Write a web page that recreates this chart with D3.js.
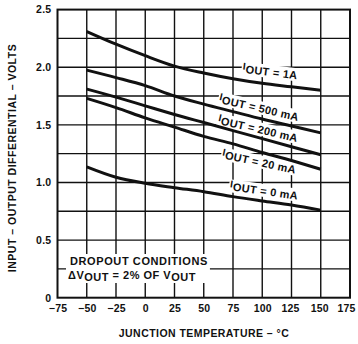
<!DOCTYPE html>
<html><head><meta charset="utf-8">
<script src="https://cdn.jsdelivr.net/npm/d3@7"></script>
<style>body{margin:0;background:#fff}svg{display:block}text{font-family:"Liberation Sans",Arial,sans-serif;font-weight:bold;fill:#111}</style>
</head><body><svg id="c" width="358" height="344"></svg>
<script>
const temps = [-50, -25, 0, 25, 50, 75, 100, 125, 150];
const v1A   = [2.31, 2.20, 2.10, 2.01, 1.95, 1.90, 1.86, 1.83, 1.80];
const v500  = [1.975, 1.91, 1.84, 1.75, 1.68, 1.615, 1.55, 1.49, 1.43];
const v200  = [1.81, 1.74, 1.665, 1.59, 1.52, 1.45, 1.38, 1.31, 1.24];
const v20   = [1.73, 1.65, 1.56, 1.48, 1.40, 1.335, 1.26, 1.19, 1.115];
const v0    = [1.135, 1.045, 0.993, 0.955, 0.92, 0.877, 0.84, 0.805, 0.76];
const seriesLabels = ["1A", "500 mA", "200 mA", "20 mA", "0 mA"];
const xTicks = [-75, -50, -25, 0, 25, 50, 75, 100, 125, 150, 175];
const yTicks = [0, 0.5, 1.0, 1.5, 2.0, 2.5];
const yTickLabels = ["0", "0.5", "1.0", "1.5", "2.0", "2.5"];
const yGrid = [0.25, 0.5, 0.75, 1.0, 1.25, 1.5, 1.75, 2.0, 2.25];

const FONT = '"Liberation Sans",Arial,sans-serif';
const svg = d3.select("#c");
const x = d3.scaleLinear().domain([-75, 175]).range([57.5, 350]);
const y = d3.scaleLinear().domain([0, 2.5]).range([297.7, 9.6]);

// grid
const g = svg.append("g");
g.selectAll(".vg").data(xTicks.slice(1, -1)).join("line")
  .attr("x1", d => x(d)).attr("x2", d => x(d)).attr("y1", y(0)).attr("y2", y(2.5))
  .attr("stroke", "#111").attr("stroke-width", 1.4);
g.selectAll(".hg").data(yGrid).join("line")
  .attr("x1", x(-75)).attr("x2", x(175)).attr("y1", d => y(d)).attr("y2", d => y(d))
  .attr("stroke", "#111").attr("stroke-width", 1.4);

const bgLayer = svg.append("g");
const curveLayer = svg.append("g");
const textLayer = svg.append("g");

// curves
const series = [v1A, v500, v200, v20, v0];
const line = d3.line().x((d, i) => x(temps[i])).y(d => y(d)).curve(d3.curveMonotoneX);
curveLayer.selectAll("path").data(series).join("path")
  .attr("d", line).attr("fill", "none").attr("stroke", "#111").attr("stroke-width", 3);

// frame
curveLayer.append("rect").attr("x", x(-75)).attr("y", y(2.5)).attr("width", x(175) - x(-75)).attr("height", y(0) - y(2.5))
  .attr("fill", "none").attr("stroke", "#111").attr("stroke-width", 2);

// axes
const xAxis = d3.axisBottom(x).tickValues(xTicks).tickSize(0).tickPadding(7)
  .tickFormat(d => d < 0 ? "\u2212" + Math.abs(d) : d);
const xa = svg.append("g").attr("transform", `translate(0,${y(0)})`).call(xAxis);
xa.select(".domain").remove();
xa.selectAll("text").attr("font-size", 10.5).style("font-family", FONT).style("font-weight", "bold").style("letter-spacing", "0.2px").attr("fill", "#111")
  .attr("dx", d => d === 175 ? -4 : (d >= 125 ? -1.5 : 0));
const yAxis = d3.axisLeft(y).tickValues(yTicks).tickSize(0).tickPadding(6).tickFormat((d, i) => yTickLabels[i]);
const ya = svg.append("g").attr("transform", `translate(${x(-75)},0)`).call(yAxis);
ya.select(".domain").remove();
ya.selectAll("text").attr("font-size", 10.5).style("font-family", FONT).style("font-weight", "bold").style("letter-spacing", "0.3px").attr("fill", "#111");

// titles
svg.append("text").attr("x", 204).attr("y", 337).attr("text-anchor", "middle").attr("font-size", 10.5)
  .style("letter-spacing", "0.45px").text("JUNCTION TEMPERATURE \u2013 \u00B0C");
svg.append("text").attr("transform", "translate(16,158) rotate(-90)").attr("text-anchor", "middle").attr("font-size", 10.5)
  .style("letter-spacing", "0.5px").text("INPUT \u2013 OUTPUT DIFFERENTIAL \u2013 VOLTS");

// series labels
const labelPos = [[270, 72, 7], [259, 108, 13], [258, 129, 13], [259, 162, 12], [264, 191, 8]];
function addLabel(txt, cx, cy, ang) {
  const tr = `translate(${cx},${cy}) rotate(${ang})`;
  const t = textLayer.append("text").attr("transform", tr).attr("text-anchor", "middle")
    .attr("font-size", 11).attr("y", 4).style("letter-spacing", "0.3px");
  t.append("tspan").attr("font-size", 10).attr("dy", -3).text("I");
  t.append("tspan").attr("dy", 3).text("OUT");
  t.append("tspan").text(" = " + txt);
  const bb = t.node().getBBox();
  bgLayer.append("rect").attr("transform", tr).attr("fill", "#fff")
    .attr("x", bb.x - 1).attr("y", bb.y + 1).attr("width", bb.width + 2).attr("height", bb.height - 1);
}
seriesLabels.forEach((s, i) => addLabel(s, ...labelPos[i]));

// dropout box
const note = textLayer.append("g");
note.append("text").attr("x", 70).attr("y", 265).attr("font-size", 11).style("letter-spacing", "0.6px").text("DROPOUT CONDITIONS");
const n2 = note.append("text").attr("x", 68).attr("y", 279).attr("font-size", 11).style("letter-spacing", "0.5px");
n2.append("tspan").text("\u0394V");
n2.append("tspan").attr("dy", 2).text("OUT");
n2.append("tspan").attr("dy", -2).text(" = 2% OF V");
n2.append("tspan").attr("dy", 2).text("OUT");
const nb = note.node().getBBox();
bgLayer.append("rect").attr("fill", "#fff").attr("x", nb.x - 2).attr("y", nb.y - 1).attr("width", nb.width + 4).attr("height", nb.height + 1);
</script></body></html>
